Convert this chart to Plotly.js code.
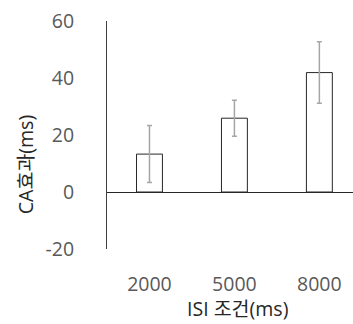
<!DOCTYPE html>
<html><head><meta charset="utf-8">
<script src="https://cdn.plot.ly/plotly-3.0.1.min.js"></script>
<style>body{margin:0;}#c{width:353px;height:324px;}</style>
</head><body><div id="c"></div>
<script>
const categories = ["2000", "5000", "8000"];
const caEffect = [13.3, 25.9, 41.9];
const errors = [10.0, 6.3, 10.8];
const yTickVals = [-20, 0, 20, 40, 60];
const yTickText = ["-20", "0", "20", "40", "60"];
const xTitle = "ISI 조건(ms)";
const yTitle = "CA효과(ms)";

const font = '"Open Sans", "Noto Sans CJK KR", sans-serif';
const trace = {
  type: 'bar', x: categories, y: caEffect, width: 0.305,
  marker: {color: '#ffffff', line: {color: '#262626', width: 1}},
  error_y: {type: 'data', array: errors, visible: true, color: '#a6a6a6', thickness: 1.5, width: 2.5}
};
const layout = {
  width: 353, height: 324,
  margin: {l: 107, r: 0, t: 21, b: 75},
  paper_bgcolor: '#fff', plot_bgcolor: '#fff',
  showlegend: false,
  font: {family: font, size: 19, color: '#595959'},
  xaxis: {type: 'category', range: [-0.5, 2.396], showline: false, showgrid: false, zeroline: false,
          ticks: '', ticklabelstandoff: 21, tickfont: {size: 19.5, color: '#595959'}},
  yaxis: {range: [-20, 60], tickvals: yTickVals, ticktext: yTickText, showgrid: false, showline: true,
          linecolor: '#404040', linewidth: 1, zeroline: true, zerolinecolor: '#262626', zerolinewidth: 1,
          ticks: '', ticklabelstandoff: 28, tickfont: {size: 19.5, color: '#595959'}},
  annotations: [
    {text: xTitle, xref: 'paper', yref: 'paper', x: 0.53, y: -0.262, xanchor: 'center', yanchor: 'middle',
     showarrow: false, font: {family: font, size: 19.5, color: '#262626'}},
    {text: yTitle, xref: 'paper', yref: 'paper', x: -0.333, y: 0.368, xanchor: 'center', yanchor: 'middle',
     textangle: -90, showarrow: false, font: {family: font, size: 19.5, color: '#262626'}}
  ]
};
Plotly.newPlot('c', [trace], layout, {displayModeBar: false, staticPlot: true});
</script></body></html>
